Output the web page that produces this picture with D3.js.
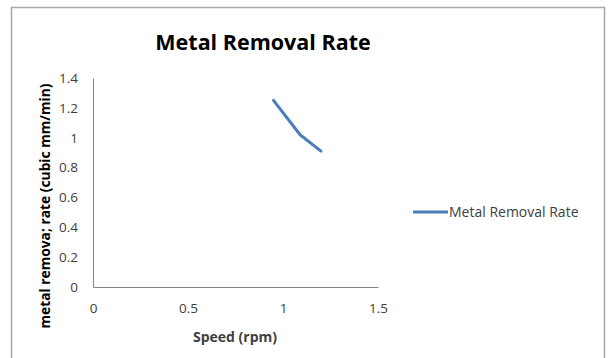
<!DOCTYPE html>
<html>
<head>
<meta charset="utf-8">
<script src="https://cdn.jsdelivr.net/npm/d3@7"></script>
<style>
  html, body { margin: 0; padding: 0; background: #fff; }
  svg { display: block; }
  text { font-family: "Open Sans", Lato, "Liberation Sans", sans-serif; }
</style>
</head>
<body>
<svg id="chart" width="608" height="358"></svg>
<script>
// Series: metal removal rate against spindle speed
const speeds = [0.95, 1.09, 1.2];
const removalRates = [1.25, 1.02, 0.91];
const xTicks = [0, 0.5, 1, 1.5];
const yTicks = [0, 0.2, 0.4, 0.6, 0.8, 1, 1.2, 1.4];
const seriesName = "Metal Removal Rate";

const svg = d3.select("#chart");
const plot = { left: 93, right: 378, top: 78, bottom: 287 };
const lineColor = "#4a7ebb";
const textColor = "#404040";

// Chart frame (bottom edge runs off the page)
svg.append("rect")
  .attr("x", 11.5).attr("y", 7.5)
  .attr("width", 593).attr("height", 370)
  .attr("fill", "#fff").attr("stroke", "#a6a6a6").attr("stroke-width", 1.5);

const x = d3.scaleLinear().domain([0, 1.5]).range([plot.left, plot.right]);
const y = d3.scaleLinear().domain([0, 1.4]).range([plot.bottom, plot.top]);

// Axes
const xAxis = svg.append("g")
  .attr("transform", `translate(0,${plot.bottom})`)
  .call(d3.axisBottom(x).tickValues(xTicks).tickSize(0).tickPadding(16)
    .tickFormat(d3.format("")));
const yAxis = svg.append("g")
  .attr("transform", `translate(${plot.left},0)`)
  .call(d3.axisLeft(y).tickValues(yTicks).tickSize(0).tickPadding(15)
    .tickFormat(d3.format("")));

[xAxis, yAxis].forEach(g => {
  g.select(".domain").attr("stroke", "#868686").attr("stroke-width", 1);
  g.selectAll("text")
    .attr("fill", textColor)
    .style("font-size", "13.5px")
    .style("font-family", '"Open Sans", Lato, sans-serif');
});

// Data line
const line = d3.line()
  .x((d, i) => x(speeds[i]))
  .y(d => y(d));
svg.append("path")
  .datum(removalRates)
  .attr("d", line)
  .attr("fill", "none")
  .attr("stroke", lineColor)
  .attr("stroke-width", 3)
  .attr("stroke-linejoin", "round")
  .attr("stroke-linecap", "round");

// Title
svg.append("text")
  .attr("x", 263).attr("y", 50)
  .attr("text-anchor", "middle")
  .attr("fill", "#000")
  .style("font-size", "21.5px")
  .style("font-weight", "bold")
  .text("Metal Removal Rate");

// Axis titles
svg.append("text")
  .attr("x", 235).attr("y", 342)
  .attr("text-anchor", "middle")
  .attr("fill", textColor)
  .style("font-size", "14px")
  .style("font-weight", "bold")
  .text("Speed (rpm)");

svg.append("text")
  .attr("transform", "translate(50,206) rotate(-90)")
  .attr("text-anchor", "middle")
  .attr("fill", "#000")
  .style("font-size", "13.8px")
  .style("font-weight", "bold")
  .text("metal remova; rate (cubic mm/min)");

// Legend
const legend = svg.append("g").attr("transform", "translate(413,212)");
legend.append("line")
  .attr("x1", 0).attr("x2", 35).attr("y1", 0).attr("y2", 0)
  .attr("stroke", lineColor).attr("stroke-width", 3);
legend.append("text")
  .attr("x", 36).attr("y", 5)
  .attr("fill", textColor)
  .style("font-size", "14px")
  .text(seriesName);
</script>
</body>
</html>
